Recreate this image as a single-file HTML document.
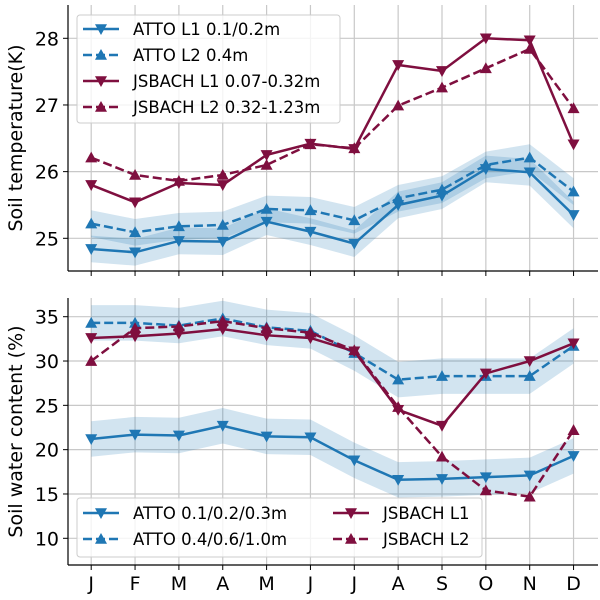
<!DOCTYPE html>
<html><head><meta charset="utf-8"><style>
html,body{margin:0;padding:0;background:#fff}
svg{display:block;font-family:"DejaVu Sans","Liberation Sans",sans-serif}
</style></head><body>
<svg id="chart" width="600" height="600" viewBox="0 0 600 600" xmlns="http://www.w3.org/2000/svg"></svg>
<script>
const months = ["J","F","M","A","M","J","J","A","S","O","N","D"];
const tempTicks = [25,26,27,28];
const swcTicks = [10,15,20,25,30,35];
const tempAttoL1 = [24.84,24.79,24.96,24.95,25.25,25.1,24.92,25.5,25.64,26.04,25.99,25.35];
const tempAttoL2 = [25.22,25.09,25.18,25.2,25.44,25.42,25.27,25.6,25.73,26.1,26.21,25.7];
const tempJsL1 = [25.8,25.54,25.83,25.8,26.25,26.42,26.34,27.6,27.51,28.0,27.97,26.41];
const tempJsL2 = [26.21,25.95,25.86,25.95,26.1,26.41,26.35,26.99,27.26,27.55,27.84,26.95];
const tempBandL1 = [0.2,0.2,0.2,0.2,0.2,0.2,0.2,0.2,0.2,0.2,0.2,0.2];
const tempBandL2 = [0.2,0.2,0.2,0.2,0.2,0.2,0.2,0.2,0.2,0.2,0.2,0.2];
const swcAttoL1 = [21.2,21.7,21.6,22.7,21.5,21.4,18.8,16.6,16.7,16.9,17.1,19.3];
const swcAttoL2 = [34.3,34.3,34.0,34.8,33.8,33.4,30.9,27.9,28.3,28.3,28.3,31.7];
const swcJsL1 = [32.6,32.8,33.1,33.6,32.9,32.6,31.1,24.5,22.7,28.6,30.0,32.0];
const swcJsL2 = [30.0,33.7,33.9,34.5,33.7,33.2,31.2,24.8,19.2,15.4,14.7,22.2];
const swcBandL1 = [2,2,2,2,2,2,2,2,2,2,2,2];
const swcBandL2 = [2,2,2,2,2,2,2,2,2,2,2,2];

const NS="http://www.w3.org/2000/svg";
const svg=document.getElementById('chart');
const BLUE="#1f77b4", RED="#7f0f3f";
function el(tag,attrs,parent){const e=document.createElementNS(NS,tag);for(const k in attrs)e.setAttribute(k,attrs[k]);(parent||svg).appendChild(e);return e;}
const X0=68, X1=598;
function xs(i){return 91.2+i*43.85;}

function panel(cfg){
  const g=el('g',{});
  
  
  const ys=v=>cfg.py0+(v-cfg.v0)*(cfg.py1-cfg.py0)/(cfg.v1-cfg.v0);
  months.forEach((m,i)=>{const l=el('line',{x1:xs(i),x2:xs(i),y1:cfg.top,y2:cfg.bottom,stroke:'#c8c8c8','stroke-width':1.2},g);
    });
  cfg.ticks.forEach(t=>{const y=ys(t);
    const l=el('line',{x1:X0,x2:X1,y1:y,y2:y,stroke:'#c8c8c8','stroke-width':1.2},g);
    
    el('line',{x1:X0-5,x2:X0,y1:y,y2:y,stroke:'#000','stroke-width':1},g);
    const tx=el('text',{x:X0-9,y:y+7,'text-anchor':'end','font-size':19},g);tx.textContent=t;
    });
  function band(vals,err,name){
    let d='';vals.forEach((v,i)=>{d+=(i?'L':'M')+xs(i)+','+ys(v+err[i]);});
    for(let i=vals.length-1;i>=0;i--)d+='L'+xs(i)+','+ys(vals[i]-err[i]);
    const p=el('path',{d:d+'Z',fill:BLUE,'fill-opacity':0.2},g);
    }
  band(cfg.s[0],cfg.b[0],'band-atto-l1');band(cfg.s[1],cfg.b[1],'band-atto-l2');
  function series(vals,color,dash,down,name){
    const pts=vals.map((v,i)=>xs(i)+','+ys(v)).join(' ');
    const pl=el('polyline',{points:pts,fill:'none',stroke:color,'stroke-width':2.5,'stroke-dasharray':dash?'9,4':'none'},g);
    
    vals.forEach((v,i)=>{const x=xs(i),y=ys(v),s=6;
      const p=down?`${x-s},${y-s*0.8} ${x+s},${y-s*0.8} ${x},${y+s}`:`${x-s},${y+s*0.8} ${x+s},${y+s*0.8} ${x},${y-s}`;
      const m=el('polygon',{points:p,fill:color},g);
      });}
  series(cfg.s[0],BLUE,false,true,'atto-l1');series(cfg.s[1],BLUE,true,false,'atto-l2');
  series(cfg.s[2],RED,false,true,'jsbach-l1');series(cfg.s[3],RED,true,false,'jsbach-l2');
  el('line',{x1:X0,x2:X0,y1:cfg.top,y2:cfg.bottom,stroke:'#000','stroke-width':1.2},g);
  el('line',{x1:X0,x2:X1,y1:cfg.bottom,y2:cfg.bottom,stroke:'#000','stroke-width':1.2},g);
  months.forEach((m,i)=>{el('line',{x1:xs(i),x2:xs(i),y1:cfg.bottom,y2:cfg.bottom+5,stroke:'#000','stroke-width':1},g);
    if(cfg.labels){const t=el('text',{x:xs(i),y:cfg.bottom+25,'text-anchor':'middle','font-size':19},g);t.textContent=m;
      }});
  const yt=el('text',{x:0,y:0,'text-anchor':'middle','font-size':19,transform:`translate(22,${(cfg.top+cfg.bottom)/2}) rotate(-90)`},g);
  yt.textContent=cfg.title;
}
panel({name:'temperature-panel',top:5,bottom:271,v0:25,v1:28,py0:238.3,py1:38.3,ticks:tempTicks,
  s:[tempAttoL1,tempAttoL2,tempJsL1,tempJsL2],b:[tempBandL1,tempBandL2],labels:false,title:'Soil temperature(K)'});
panel({name:'water-panel',top:298,bottom:565,v0:10,v1:35,py0:538.3,py1:316.7,ticks:swcTicks,
  s:[swcAttoL1,swcAttoL2,swcJsL1,swcJsL2],b:[swcBandL1,swcBandL2],labels:true,title:'Soil water content (%)'});

function legend(name,x,y,w,h,entries){
  const g=el('g',{});
  el('rect',{x:x,y:y,width:w,height:h,rx:3,fill:'#fff','fill-opacity':0.8,stroke:'#ccc'},g);
  entries.forEach(e=>{
    el('line',{x1:e.x,x2:e.x+36,y1:e.y,y2:e.y,stroke:e.c,'stroke-width':2.5,'stroke-dasharray':e.dash?'9,4':'none'},g);
    const cx=e.x+18,s=6;
    el('polygon',{points:e.down?`${cx-s},${e.y-s*0.8} ${cx+s},${e.y-s*0.8} ${cx},${e.y+s}`:`${cx-s},${e.y+s*0.8} ${cx+s},${e.y+s*0.8} ${cx},${e.y-s}`,fill:e.c},g);
    const t=el('text',{x:e.x+50,y:e.y+6,'font-size':16.5},g);t.textContent=e.t;
    });
}
legend('temperature-legend',77,15,263,108,[
  {x:83,y:29,c:BLUE,down:true,t:'ATTO L1 0.1/0.2m'},
  {x:83,y:55,c:BLUE,dash:true,t:'ATTO L2 0.4m'},
  {x:83,y:81,c:RED,down:true,t:'JSBACH L1 0.07-0.32m'},
  {x:83,y:107,c:RED,dash:true,t:'JSBACH L2 0.32-1.23m'}]);
legend('water-legend',77,498,405,59,[
  {x:83,y:513,c:BLUE,down:true,t:'ATTO 0.1/0.2/0.3m'},
  {x:83,y:539,c:BLUE,dash:true,t:'ATTO 0.4/0.6/1.0m'},
  {x:333,y:513,c:RED,down:true,t:'JSBACH L1'},
  {x:333,y:539,c:RED,dash:true,t:'JSBACH L2'}]);
</script>
</body></html>
